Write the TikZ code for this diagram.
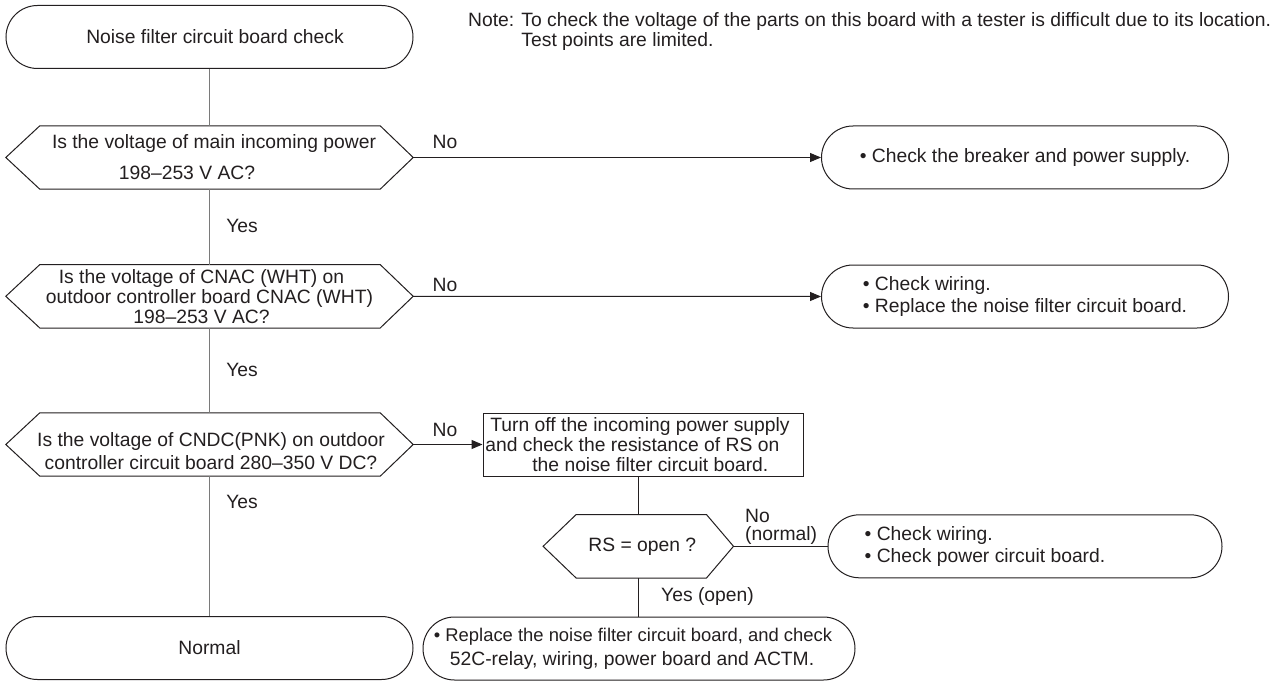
\documentclass[tikz,border=0pt]{standalone}
\usepackage{fontspec}
\setmainfont{Liberation Sans}
\usetikzlibrary{calc,arrows.meta}
\definecolor{ink}{HTML}{231F20}
\definecolor{trunk}{HTML}{7A7A7A}
% hexagon outline on an (empty) rectangular node: #1 node, #2 left tip depth, #3 right tip depth
\newcommand\hexoutline[3]{%
  \draw[shapeline] (#1.west) -- ($(#1.north west)+(#2,0)$) -- ($(#1.north east)+(-#3,0)$)
    -- (#1.east) -- ($(#1.south east)+(-#3,0)$) -- ($(#1.south west)+(#2,0)$) -- cycle;}
\begin{document}
\begin{tikzpicture}[x=1pt,y=-1pt,
  font=\fontsize{19.3}{20}\selectfont, text=ink,
  shapeline/.style={draw=ink, line width=1pt},
  term/.style={shapeline, rounded corners=31.5pt, minimum width=#1, minimum height=63pt, inner sep=0pt},
  decision/.style={minimum width=#1, minimum height=63pt, inner sep=0pt, align=center},
  stepbox/.style={shapeline, minimum width=320pt, minimum height=63pt, inner sep=0pt, align=left},
  conn/.style={draw=ink, line width=1pt},
  trunkline/.style={draw=trunk, line width=1.6pt},
  arr/.style={conn, -{Triangle[length=11pt,width=9pt]}},
  lbl/.style={inner sep=0pt}]
\useasboundingbox[fill=white] (0,0) rectangle (1278,682);

% main column
\node[term=407] (start) at (209.5,37) {\hspace*{11pt}Noise filter circuit board check};
\node[decision=407] (d1) at (209.5,157.5)
  {\hspace*{9pt}Is the voltage of main incoming power\\[11pt]198–253 V AC?\hspace*{45pt}};
\node[decision=407] (d2) at (209.5,296.3)
  {Is the voltage of CNAC (WHT) on\hspace*{16pt}\\outdoor controller board CNAC (WHT)\\198–253 V AC?\hspace*{16pt}};
\node[decision=407] (d3) at (209.5,444.5) {};
\node[lbl, align=center] (d3text) at (211,451)
  {Is the voltage of CNDC(PNK) on outdoor\\[3.5pt]controller circuit board 280–350 V DC?};
\node[term=407] (normal) at (209.5,648) {Normal};
\hexoutline{d1}{34}{33}
\hexoutline{d2}{34}{33}
\hexoutline{d3}{34}{33}

% right column
\node[term=407] (t1) at (1025,157.5) {• Check the breaker and power supply.};
\node[term=407, align=left] (t2) at (1025,296.5)
  {• Check wiring.\\[1.5pt]• Replace the noise filter circuit board.};
\node[stepbox] (box) at (643,444.5)
  {\hspace*{5pt}Turn off the incoming power supply\hspace*{11pt}\\and check the resistance of RS on\\\hspace*{47pt}the noise filter circuit board.};
\node[decision=190] (rs) at (638.3,546.3) {\hspace*{8pt}RS = open ?};
\hexoutline{rs}{33}{27}
\node[term=394, align=left] (t3) at (1025,546.3)
  {• Check wiring.\\[1.5pt]• Check power circuit board.\hspace*{80pt}};
\node[term=432, align=left] (t4) at (639,648.5)
  {{\fontsize{18.4}{20}\selectfont • Replace the noise filter circuit board, and check}\hspace*{12pt}\\[3.7pt]\hspace*{16pt}52C-relay, wiring, power board and ACTM.};

% note
\node[lbl, align=left, anchor=north west] (note) at (468,12)
  {Note: To check the voltage of the parts on this board with a tester is difficult due to its location.\\\phantom{Note: }Test points are limited.};

% connectors
\draw[trunkline] (start) -- (d1);
\draw[trunkline] (d1) -- (d2);
\draw[trunkline] (d2) -- (d3);
\draw[trunkline] (d3) -- (normal);
\draw[arr] (d1.east) -- (t1.west);
\draw[arr] (d2.east) -- (t2.west);
\draw[arr] (d3.east) -- (box.west);
\draw[conn] (box.south -| rs.north) -- (rs.north);
\draw[conn] (rs.east) -- (t3.west);
\draw[conn] (rs.south) -- (rs.south |- t4.north);

% labels
\node[lbl] (yes1) at (242,226) {Yes};
\node[lbl] (yes2) at (242,370) {Yes};
\node[lbl] (yes3) at (242,502) {Yes};
\node[lbl] (no1) at (445,142) {No};
\node[lbl] (no2) at (445,285) {No};
\node[lbl] (no3) at (445,430) {No};
\node[lbl, anchor=west] (no4) at (745,516) {No};
\node[lbl, anchor=west] (normlbl) at (745,536) {(normal)};
\node[lbl] (yesopen) at (707.5,597) {Yes (open)};
\end{tikzpicture}
\end{document}
